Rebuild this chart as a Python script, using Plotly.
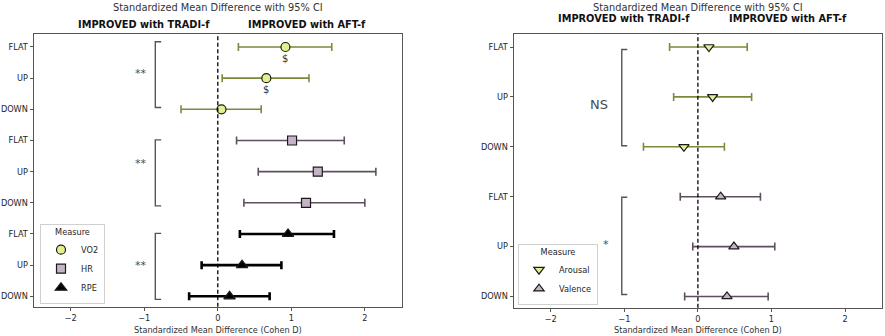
import plotly.graph_objects as go

# ---------------- data ----------------
conditions = ["FLAT", "UP", "DOWN"]

# Left panel (physiological measures)
left_measures = ["VO2", "HR", "RPE"]
vo2_d = [0.92, 0.66, 0.05]
vo2_lo = [0.28, 0.06, -0.50]
vo2_hi = [1.55, 1.24, 0.59]
hr_d = [1.01, 1.36, 1.20]
hr_lo = [0.255, 0.55, 0.355]
hr_hi = [1.72, 2.15, 2.00]
rpe_d = [0.955, 0.33, 0.16]
rpe_lo = [0.30, -0.22, -0.39]
rpe_hi = [1.58, 0.865, 0.705]
left_sig = ["**", "**", "**"]
left_bracket_spans = [(-0.17, 1.94), (2.98, 5.10), (5.98, 8.10)]
left_sig_y = [0.84, 3.74, 7.0]
dollar_rows = ["FLAT", "UP"]  # VO2 rows marked with $

# Right panel (affective measures)
right_measures = ["Arousal", "Valence"]
arousal_d = [0.15, 0.20, -0.19]
arousal_lo = [-0.385, -0.33, -0.74]
arousal_hi = [0.67, 0.73, 0.36]
valence_d = [0.31, 0.49, 0.395]
valence_lo = [-0.24, -0.07, -0.18]
valence_hi = [0.85, 1.045, 0.955]
right_sig = ["NS", "*"]
right_bracket_spans = [(0.05, 1.98), (3.01, 4.96)]
right_sig_y = [1.16, 3.95]

x_ticks = [-2, -1, 0, 1, 2]

# ---------------- styles ----------------
YG_FILL = "#e6ef8e"
YG_LINE = "#7b8a3a"
MV_FILL = "#c7b3c7"
MV_LINE = "#5d4f5e"
FONT = "DejaVu Sans"
TXT = "#262626"

fig = go.Figure()


def add_series(d, lo, hi, ypos, name, symbol, fill, line, size, thick, xa, ya, legend):
    fig.add_trace(go.Scatter(
        x=d, y=ypos, mode="markers", name=name,
        xaxis=xa, yaxis=ya, legend=legend,
        marker=dict(symbol=symbol, size=size, color=fill,
                    line=dict(color="#1a1a1a", width=1.2)),
        error_x=dict(type="data", symmetric=False,
                     array=[h - v for h, v in zip(hi, d)],
                     arrayminus=[v - l for v, l in zip(d, lo)],
                     color=line, thickness=thick, width=4),
        showlegend=True,
    ))


# left panel
left_data = [
    (vo2_d, vo2_lo, vo2_hi, "circle", YG_FILL, YG_LINE, 9, 1.6),
    (hr_d, hr_lo, hr_hi, "square", MV_FILL, MV_LINE, 9, 1.6),
    (rpe_d, rpe_lo, rpe_hi, "triangle-up", "#000000", "#000000", 10, 2.6),
]
left_ticktext = []
left_tickvals = []
for g, (name, (d, lo, hi, sym, fill, line, size, thick)) in enumerate(zip(left_measures, left_data)):
    ypos = [g * 3 + i for i in range(len(conditions))]
    left_tickvals += ypos
    left_ticktext += conditions
    add_series(d, lo, hi, ypos, name, sym, fill, line, size, thick, "x", "y", "legend")

# right panel
right_data = [
    (arousal_d, arousal_lo, arousal_hi, "triangle-down", YG_FILL, YG_LINE, 9, 1.6),
    (valence_d, valence_lo, valence_hi, "triangle-up", MV_FILL, MV_LINE, 9, 1.6),
]
right_ticktext = []
right_tickvals = []
for g, (name, (d, lo, hi, sym, fill, line, size, thick)) in enumerate(zip(right_measures, right_data)):
    ypos = [g * 3 + i for i in range(len(conditions))]
    right_tickvals += ypos
    right_ticktext += conditions
    add_series(d, lo, hi, ypos, name, sym, fill, line, size, thick, "x2", "y2", "legend2")

shapes = []
annotations = []

# zero reference lines
for xr, yr in (("x", "y domain"), ("x2", "y2 domain")):
    shapes.append(dict(type="line", xref=xr, yref=yr, x0=0, x1=0, y0=0, y1=1,
                       line=dict(color="#000000", width=1.3, dash="4px,2.5px")))


def bracket(xr, yr, xv, xt, y0, y1):
    shapes.append(dict(type="path", xref=xr, yref=yr,
                       path=f"M {xt} {y0} L {xv} {y0} L {xv} {y1} L {xt} {y1}",
                       line=dict(color="#555555", width=1.4)))


for (y0, y1), s, sy in zip(left_bracket_spans, left_sig, left_sig_y):
    bracket("x", "y", -0.85, -0.77, y0, y1)
    annotations.append(dict(x=-1.05, y=sy, xref="x", yref="y", text=s, showarrow=False,
                            font=dict(family=FONT, size=11, color="#4a4a4a")))

for (y0, y1), s, sy in zip(right_bracket_spans, right_sig, right_sig_y):
    bracket("x2", "y2", -1.035, -0.96, y0, y1)
    annotations.append(dict(x=-1.35 if s == "NS" else -1.25, y=sy, xref="x2", yref="y2",
                            text=s, showarrow=False,
                            font=dict(family=FONT, size=13 if s == "NS" else 11, color="#4a4a4a")))

# $ markers
for r in dollar_rows:
    i = conditions.index(r)
    annotations.append(dict(x=vo2_d[i], y=i + 0.37, xref="x", yref="y", text="$",
                            showarrow=False, font=dict(family=FONT, size=10, color="#333333")))

# titles
for xr, ty, hy in (("x", 0.979, 0.9256), ("x2", 0.979, 0.944)):
    annotations.append(dict(x=0, y=ty, xref=xr, yref="paper", text="Standardized Mean Difference with 95% CI",
                            showarrow=False, yanchor="middle",
                            font=dict(family=FONT, size=9.8, color="#333333")))
    annotations.append(dict(x=-1.0, y=hy, xref=xr, yref="paper", text="<b>IMPROVED with TRADI-f</b>",
                            showarrow=False, yanchor="middle",
                            font=dict(family=FONT, size=9.8, color="#111111")))
    annotations.append(dict(x=1.22, y=hy, xref=xr, yref="paper", text="<b>IMPROVED with AFT-f</b>",
                            showarrow=False, yanchor="middle",
                            font=dict(family=FONT, size=9.8, color="#111111")))
    annotations.append(dict(x=0, y=0.018, xref=xr, yref="paper", text="Standardized Mean Difference (Cohen D)",
                            showarrow=False, yanchor="middle",
                            font=dict(family=FONT, size=8.2, color="#333333")))

axis_common = dict(showline=True, mirror=True, linecolor="#555555", linewidth=1,
                   ticks="outside", ticklen=3.5, tickcolor="#555555", showgrid=False,
                   zeroline=False, tickfont=dict(family=FONT, size=8.2, color=TXT))

legend_common = dict(bgcolor="rgba(255,255,255,0.9)", bordercolor="#d0d0d0", borderwidth=1,
                     font=dict(family=FONT, size=8.2, color=TXT),
                     title=dict(text="Measure", side="top center",
                                font=dict(family=FONT, size=8.2, color=TXT)),
                     xanchor="left", yanchor="bottom", itemwidth=30, tracegroupgap=0)

fig.update_layout(
    width=885, height=336,
    margin=dict(l=0, r=0, t=0, b=0),
    paper_bgcolor="white", plot_bgcolor="white",
    xaxis=dict(domain=[34 / 885, 401.6 / 885], range=[-2.5, 2.5], tickvals=x_ticks,
               anchor="y", **axis_common),
    yaxis=dict(domain=[1 - 306.7 / 336, 1 - 33.5 / 336], range=[8.334, -0.433],
               tickvals=left_tickvals, ticktext=left_ticktext, anchor="x", **axis_common),
    xaxis2=dict(domain=[514 / 885, 881.8 / 885], range=[-2.5, 2.5], tickvals=x_ticks,
                anchor="y2", **axis_common),
    yaxis2=dict(domain=[1 - 307.7 / 336, 1 - 33.7 / 336], range=[5.225, -0.267],
                tickvals=right_tickvals, ticktext=right_ticktext, anchor="x2", **axis_common),
    legend=dict(x=40 / 885, y=1 - 303.5 / 336, **legend_common),
    legend2=dict(x=518 / 885, y=1 - 304.5 / 336, **legend_common),
    shapes=shapes,
    annotations=annotations,
)

fig.write_html("out.html")
